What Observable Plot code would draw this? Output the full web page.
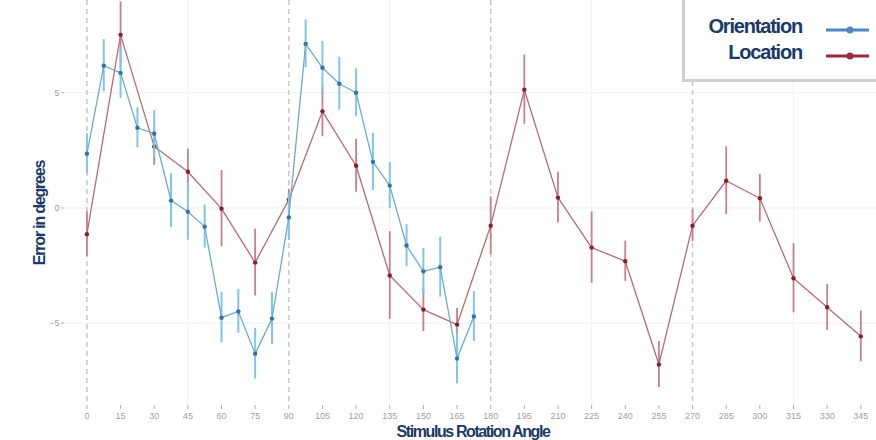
<!DOCTYPE html>
<html>
<head>
<meta charset="utf-8">
<script src="https://cdn.jsdelivr.net/npm/d3@7"></script>
<script src="https://cdn.jsdelivr.net/npm/@observablehq/plot@0.6"></script>
<style>
  body { margin: 0; background: #fff; }
  #wrap { position: relative; width: 876px; height: 440px; overflow: hidden; font-family: "Liberation Sans", Arial, sans-serif; }
  .title { position: absolute; color: #1b3a66; font-weight: bold; white-space: nowrap; }
  #legend { position: absolute; left: 682px; top: -3px; width: 200px; height: 85px; box-sizing: border-box; border: 3px solid #cfcfcf; background: #fff; }
  .leg-label { position: absolute; right: 77px; font-size: 20px; font-weight: bold; color: #1b3a66; letter-spacing: -1.2px; line-height: 22px; }
</style>
</head>
<body>
<div id="wrap">
  <div id="chart"></div>
  <div class="title" style="left:0;top:0;width:80px;height:440px;">
    <div style="position:absolute;left:40px;top:213px;transform:translate(-50%,-50%) rotate(-90deg);font-size:16px;letter-spacing:-1.2px;">Error in degrees</div>
  </div>
  <div class="title" style="left:473px;top:423px;transform:translateX(-50%);font-size:16px;letter-spacing:-1.4px;line-height:18px;">Stimulus Rotation Angle</div>
  <div id="legend">
    <div class="leg-label" style="top:15px;">Orientation</div>
    <div class="leg-label" style="top:41px;">Location</div>
    <svg style="position:absolute;left:138px;top:0" width="50" height="80">
      <line x1="3" x2="46" y1="30" y2="30" stroke="#4f87bd" stroke-width="3"/>
      <circle cx="27" cy="30" r="3.5" fill="#4f87bd"/>
      <line x1="3" x2="46" y1="56" y2="56" stroke="#9e2a3e" stroke-width="3"/>
      <circle cx="27" cy="56" r="3.5" fill="#9e2a3e"/>
    </svg>
  </div>
</div>
<script>
// Location task: every 15 degrees
const locAngle = [0, 15, 30, 45, 60, 75, 90, 105, 120, 135, 150, 165, 180, 195, 210, 225, 240, 255, 270, 285, 300, 315, 330, 345];
const locMean  = [-1.14, 7.51, 2.67, 1.57, -0.03, -2.37, 0.36, 4.19, 1.83, -2.93, -4.41, -5.06, -0.77, 5.13, 0.45, -1.72, -2.31, -6.79, -0.77, 1.18, 0.42, -3.05, -4.31, -5.57];
const locErr   = [0.98, 1.43, 0.82, 0.98, 1.65, 1.45, 0.45, 1.10, 1.15, 1.90, 0.95, 0.70, 1.25, 1.50, 1.10, 1.55, 0.87, 1.00, 0.70, 1.47, 1.03, 1.50, 1.00, 1.10];

// Orientation task: every 7.5 degrees, 0 to 172.5
const oriAngle = [0, 7.5, 15, 22.5, 30, 37.5, 45, 52.5, 60, 67.5, 75, 82.5, 90, 97.5, 105, 112.5, 120, 127.5, 135, 142.5, 150, 157.5, 165, 172.5];
const oriMean  = [2.35, 6.17, 5.86, 3.48, 3.22, 0.32, -0.16, -0.81, -4.76, -4.49, -6.32, -4.80, -0.41, 7.12, 6.08, 5.39, 5.00, 2.00, 0.97, -1.63, -2.75, -2.57, -6.53, -4.71];
const oriErr   = [0.87, 1.13, 1.10, 0.87, 1.00, 1.17, 1.24, 0.93, 1.10, 0.95, 1.10, 1.13, 1.00, 1.04, 1.15, 1.15, 1.04, 1.24, 1.00, 0.91, 1.00, 1.30, 1.10, 1.08];

const xTicks = [0, 15, 30, 45, 60, 75, 90, 105, 120, 135, 150, 165, 180, 195, 210, 225, 240, 255, 270, 285, 300, 315, 330, 345];
const yTicks = [-5, 0, 5];
const gridX = [45, 135, 225, 315];
const dashedX = [0, 90, 180, 270];

const loc = locAngle.map((a, i) => ({angle: a, mean: locMean[i], lo: locMean[i] - locErr[i], hi: locMean[i] + locErr[i]}));
const ori = oriAngle.map((a, i) => ({angle: a, mean: oriMean[i], lo: oriMean[i] - oriErr[i], hi: oriMean[i] + oriErr[i]}));

const chart = Plot.plot({
  width: 876,
  height: 440,
  marginLeft: 64,
  marginRight: 0,
  marginTop: 0,
  marginBottom: 35,
  x: {domain: [-10, 352]},
  y: {domain: [-8.57, 9]},
  style: {fontFamily: "'Liberation Sans', Arial, sans-serif", background: "transparent"},
  marks: [
    Plot.gridX(gridX, {stroke: "#f0f0f0", strokeOpacity: 1}),
    Plot.gridY(yTicks, {stroke: "#f0f0f0", strokeOpacity: 1}),
    Plot.ruleX(dashedX, {stroke: "#c8c8c8", strokeWidth: 1.5, strokeDasharray: "5,4"}),
    Plot.axisX(xTicks, {tickSize: 4, tickPadding: 3, fontSize: 9, stroke: "#b0b0b0", fill: "#a0a0a0", label: null}),
    Plot.axisY(yTicks, {tickSize: 3, tickPadding: 2, fontSize: 9, stroke: "#b0b0b0", fill: "#a0a0a0", label: null}),
    // Location
    Plot.ruleX(loc, {x: "angle", y1: "lo", y2: "hi", stroke: "#c6808a", strokeWidth: 1.8}),
    Plot.line(loc, {x: "angle", y: "mean", stroke: "#b56c76", strokeWidth: 1.3}),
    Plot.dot(loc, {x: "angle", y: "mean", r: 2.2, fill: "#86202f"}),
    // Orientation
    Plot.ruleX(ori, {x: "angle", y1: "lo", y2: "hi", stroke: "#80c6ea", strokeWidth: 2}),
    Plot.line(ori, {x: "angle", y: "mean", stroke: "#6eabd2", strokeWidth: 1.3}),
    Plot.dot(ori, {x: "angle", y: "mean", r: 2.2, fill: "#3572a8"})
  ]
});
document.getElementById("chart").appendChild(chart);
</script>
</body>
</html>
